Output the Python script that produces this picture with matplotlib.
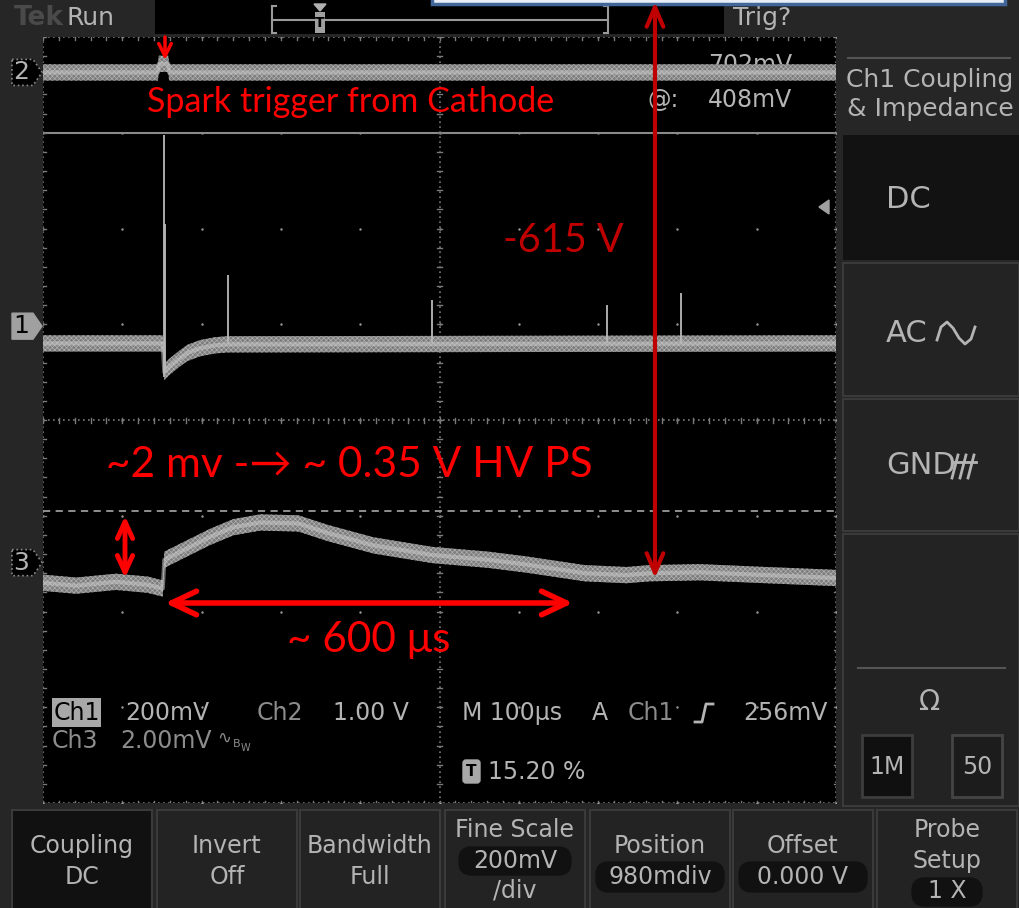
import matplotlib.pyplot as plt
from matplotlib.patches import Rectangle, FancyBboxPatch, Polygon

W, H = 1019, 908

# time base 100 us/div, trigger at 15.20 % of the record
t_start, t_stop = -152, 848

# Ch2 (1.00 V/div), trace height in screen divisions
ch2_t = [-152, -7, -6, 6, 7, 848]
ch2_div = [3.63, 3.63, 3.72, 3.72, 3.63, 3.63]

# Ch1 (200 mV/div)
ch1_t = [-152, -1, 1, 8, 20, 30, 46, 65, 80, 848]
ch1_div = [0.80, 0.80, 0.50, 0.56, 0.64, 0.70, 0.75, 0.78, 0.79, 0.80]
ch1_spike_t = [0, 2, 81, 339, 559, 652]
ch1_spike_base = [0.45, 0.50, 0.79, 0.80, 0.80, 0.80]
ch1_spike_top = [2.98, 2.05, 1.51, 1.25, 1.20, 1.33]

# Ch3 (2.00 mV/div, BW limited)
ch3_t = [-152, -110, -60, -20, -1, 1, 25, 59, 88, 122, 170, 207, 265,
         339, 410, 458, 531, 584, 613, 676, 760, 848]
ch3_div = [-1.70, -1.73, -1.69, -1.72, -1.76, -1.46, -1.36, -1.22, -1.12,
           -1.07, -1.08, -1.18, -1.31, -1.41, -1.46, -1.51, -1.60, -1.62,
           -1.60, -1.59, -1.62, -1.65]

# channel ground markers (divisions)
marker_labels = ["2", "1", "3"]
marker_div = [3.63, 0.98, -1.49]

bottom_menu = [("Coupling", "DC", None), ("Invert", "Off", None),
               ("Bandwidth", "Full", None), ("Fine Scale", "200mV", "/div"),
               ("Position", "980mdiv", None), ("Offset", "0.000 V", None),
               ("Probe", "Setup", "1 X")]

GRAY = "#b4b4b4"
DIM = "#8c8c8c"
SCOPE_FONT = "DejaVu Sans"
RED_FONT = ["Lato", "DejaVu Sans"]

plt.rcParams["hatch.linewidth"] = 0.5

fig = plt.figure(figsize=(W / 100, H / 100), dpi=100, facecolor="#262626")

# screen geometry in pixels
scr_l, scr_r, scr_t, scr_b = 43, 836, 37, 803
div_px = (scr_b - scr_t) / 8


def div_to_px(d):
    return scr_t + (4 - d) * div_px


def pixel_axes(z):
    ax = fig.add_axes([0, 0, 1, 1], zorder=z)
    ax.set_xlim(0, W)
    ax.set_ylim(H, 0)
    ax.axis("off")
    ax.patch.set_alpha(0)
    return ax


bg = pixel_axes(0)
scr = fig.add_axes([scr_l / W, 1 - scr_b / H, (scr_r - scr_l) / W,
                    (scr_b - scr_t) / H], zorder=1)
fg = pixel_axes(2)


def box(ax, x0, y0, x1, y1, fc, ec=None, lw=0, z=1):
    ax.add_patch(Rectangle((x0, y0), x1 - x0, y1 - y0, facecolor=fc,
                           edgecolor=ec if ec else fc, lw=lw, zorder=z))


def pill(ax, x0, y0, x1, y1):
    ax.add_patch(FancyBboxPatch((x0, y0), x1 - x0, y1 - y0,
                                boxstyle="round,pad=0,rounding_size=13",
                                facecolor="#111111", edgecolor="#111111",
                                zorder=3))


def label(ax, x, y, s, size=17, color=GRAY, ha="left", z=4, **kw):
    ax.text(x, y, s, fontsize=size, color=color, ha=ha, va="center",
            family=SCOPE_FONT, zorder=z, **kw)


# ---- top bar ----
box(bg, 155, 0, 724, 34, "#000000")
label(bg, 14, 18, "Tek", size=19, color="#4a4a4a", weight="bold")
label(bg, 67, 18, "Run", size=18)
label(bg, 733, 18, "Trig?", size=18)
bg.plot([272, 608], [20, 20], color="#9a9a9a", lw=1.5, zorder=3)
for xe, d in [(272, 4), (608, -4)]:
    bg.plot([xe, xe], [6, 33], color="#9a9a9a", lw=1.5, zorder=3)
    bg.plot([xe, xe + d], [6, 6], color="#9a9a9a", lw=1.5, zorder=3)
    bg.plot([xe, xe + d], [33, 33], color="#9a9a9a", lw=1.5, zorder=3)
bg.add_patch(Polygon([(314, 4), (326, 4), (320, 11)], color="#b0b0b0", zorder=4))
box(bg, 315, 12, 325, 33, "#a0a0a0", z=4)
label(bg, 320, 23, "T", size=10, color="#000000", ha="center", z=5,
      weight="bold")
box(bg, 432, -30, 1005, 4, "#e8eef6", ec="#41669a", lw=2.5, z=6)

# ---- right menu ----
bg.plot([848, 1010], [58, 58], color="#555555", lw=1.5)
label(bg, 930, 80, "Ch1 Coupling", size=18, ha="center")
label(bg, 930, 109, "& Impedance", size=18, ha="center")
box(bg, 843, 135, 1019, 260, "#121212")
box(bg, 843, 263, 1019, 396, "#232323", ec="#3a3a3a", lw=1.5)
box(bg, 843, 399, 1019, 531, "#232323", ec="#3a3a3a", lw=1.5)
box(bg, 843, 534, 1019, 806, "#232323", ec="#3a3a3a", lw=1.5)
label(bg, 886, 200, "DC", size=22)
label(bg, 886, 333, "AC", size=22)
label(bg, 886, 466, "GND", size=22)
# sine glyph next to AC and ground glyph next to GND
bg.plot([937, 941, 947, 953, 959, 965, 971, 975],
        [340, 327, 322, 328, 338, 344, 339, 327], color=GRAY, lw=2, zorder=4)
bg.plot([952, 976], [462, 462], color=GRAY, lw=2, zorder=4)
for xs in [958, 966, 974]:
    bg.plot([xs, xs - 6], [455, 478], color=GRAY, lw=2, zorder=4)
bg.plot([858, 1005], [668, 668], color="#555555", lw=1.5, zorder=4)
label(bg, 930, 702, "Ω", size=20, ha="center")
box(bg, 862, 735, 912, 797, "#101010", ec="#3d3d3d", lw=2, z=3)
box(bg, 952, 735, 1002, 797, "#1c1c1c", ec="#454545", lw=2, z=3)
label(bg, 887, 767, "1M", size=17, ha="center")
label(bg, 977, 767, "50", size=17, ha="center")

# ---- bottom menu ----
menu_x = [12, 157, 300, 445, 590, 733, 877]
menu_w = 140
for i, (x0, (l1, l2, l3)) in enumerate(zip(menu_x, bottom_menu)):
    fc = "#111111" if i == 0 else "#232323"
    box(bg, x0, 810, x0 + menu_w, 912, fc, ec="#3a3a3a", lw=1.5)
    xc = x0 + menu_w / 2
    if l3 is None:
        label(bg, xc, 846, l1, size=17, ha="center")
        if i >= 4:
            pill(bg, xc - 64, 862, xc + 64, 892)
        label(bg, xc, 877, l2, size=17, ha="center")
    else:
        label(bg, xc, 830, l1, size=17, ha="center")
        label(bg, xc, 861, l2, size=17, ha="center")
        label(bg, xc, 891, l3, size=17, ha="center")
        if i == 3:
            pill(bg, xc - 56, 847, xc + 56, 875)
        else:
            pill(bg, xc - 35, 878, xc + 35, 906)

# ---- graticule ----
scr.set_facecolor("#000000")
scr.set_xlim(t_start, t_stop)
scr.set_ylim(-4, 4)
for s in scr.spines.values():
    s.set_visible(False)
scr.set_xticks([])
scr.set_yticks([])

gx = [t_start + 100 * k for k in range(11)]
gy = list(range(-4, 5))
minor_x = [t_start + 20 * k for k in range(51)]
minor_y = [-4 + 0.2 * k for k in range(41)]
grid_c = "#7a7a7a"
scr.scatter([x for x in gx for _ in gy], [y for _ in gx for y in gy],
            s=3, color="#9a9a9a", lw=0, zorder=1)
dot = (0, (1, 2))
for x in [gx[0], gx[5], gx[-1]]:
    scr.axvline(x, color=grid_c, lw=1.2, ls=dot, zorder=1)
for y in [-4, 0, 4]:
    scr.axhline(y, color=grid_c, lw=1.2, ls=dot, zorder=1)
scr.axhline(3, color="#8a8a8a", lw=1.5, zorder=1)
scr.axhline(-0.95, color="#9a9a9a", lw=1.3, ls=(0, (4, 3)), zorder=1)
# minor ticks along the centre lines and the border
tick_dx = 5 * 100 / ((scr_r - scr_l) / 10)
tick_dy = 5 / div_px
for x in minor_x:
    for y0 in [-4, 0, 4]:
        scr.plot([x, x], [y0 - tick_dy / 2, y0 + tick_dy / 2], color=grid_c,
                 lw=1, zorder=1)
for y in minor_y:
    for x0 in [gx[0], gx[5], gx[-1]]:
        scr.plot([x0 - tick_dx / 2, x0 + tick_dx / 2], [y, y], color=grid_c,
                 lw=1, zorder=1)

# ---- readouts on the screen ----
scr_text = dict(transform=fg.transData)
label(scr, 708, 65, "702mV", size=17, z=2, **scr_text)
label(scr, 648, 100, "@:", size=17, z=2, **scr_text)
label(scr, 708, 100, "408mV", size=17, z=2, **scr_text)
box(fg, 52, 698, 101, 727, "#a8a8a8", z=3)
label(fg, 54, 713, "Ch1", size=17, color="#000000")
label(fg, 125, 713, "200mV", size=17)
label(fg, 257, 713, "Ch2", size=17, color=DIM)
label(fg, 333, 713, "1.00 V", size=17)
label(fg, 52, 741, "Ch3", size=17, color=DIM)
label(fg, 120, 741, "2.00mV", size=17, color=DIM)
label(fg, 217, 738, "∿", size=12, color=DIM)
label(fg, 233, 744, "B", size=8, color=DIM)
label(fg, 241, 748, "W", size=7, color=DIM)
label(fg, 462, 713, "M 100μs", size=17)
label(fg, 592, 713, "A", size=17)
label(fg, 628, 713, "Ch1", size=17, color=DIM)
fg.plot([695, 702, 706, 713], [722, 722, 704, 704], color=GRAY, lw=2)
label(fg, 828, 713, "256mV", size=17, ha="right")
fg.add_patch(FancyBboxPatch((463, 760), 17, 23, boxstyle="round,pad=0,rounding_size=3",
                            facecolor="#a8a8a8", edgecolor="#a8a8a8", zorder=3))
label(fg, 471.5, 772, "T", size=11, color="#000000", ha="center", weight="bold")
label(fg, 488, 772, "15.20 %", size=17)
# trigger level indicator for Ch1
fg.add_patch(Polygon([(819, 207), (829, 200), (829, 214)], color="#a0a0a0", zorder=3))

# ---- traces ----
band = 0.085


def trace(t, v):
    lo = [y - band for y in v]
    hi = [y + band for y in v]
    scr.fill_between(t, lo, hi, facecolor="#7c7c7c", edgecolor="#b0b0b0",
                     hatch="xxxxxxx", lw=0, zorder=3)
    scr.plot(t, v, color="#c8c8c8", lw=3, alpha=0.55, zorder=4,
             solid_joinstyle="round")


trace(ch2_t, ch2_div)
trace(ch1_t, ch1_div)
trace(ch3_t, ch3_div)
scr.vlines(ch1_spike_t, ch1_spike_base, ch1_spike_top, color="#b8b8b8",
           lw=1.3, zorder=4)

# channel ground markers on the left
for name, d in zip(marker_labels, marker_div):
    yp = div_to_px(d)
    pts = [(12, yp - 13), (33, yp - 13), (42, yp), (33, yp + 13), (12, yp + 13)]
    if name == "1":
        fg.add_patch(Polygon(pts, facecolor="#a0a0a0", edgecolor="#a0a0a0", zorder=3))
        label(fg, 21, yp, name, size=18, color="#000000", ha="center")
    else:
        fg.add_patch(Polygon(pts, facecolor="#000000", edgecolor="#8a8a8a",
                             lw=1.2, ls=":", zorder=3))
        label(fg, 21, yp, name, size=18, color=GRAY, ha="center")

# ---- annotations ----
RED = "#ff0000"
DARK_RED = "#c00000"


def arrow(x0, y0, x1, y1, style, color=RED, lw=3.5):
    fg.annotate("", xy=(x1, y1), xytext=(x0, y0),
                arrowprops=dict(arrowstyle=style, color=color, lw=lw,
                                shrinkA=0, shrinkB=0), zorder=6)


arrow(165, 37, 165, 60, "->,head_length=0.9,head_width=0.45", lw=2.5)
arrow(655, 2, 655, 578, "<->,head_length=1.4,head_width=0.6", color=DARK_RED, lw=3)
arrow(125, 516, 125, 578, "<->,head_length=1.2,head_width=0.55", lw=3.5)
arrow(165, 603, 573, 603, "<->,head_length=1.8,head_width=0.85", lw=4)

fg.text(147, 102, "Spark trigger from Cathode", color=RED, fontsize=24.5,
        family=RED_FONT, va="center", zorder=6)
fg.text(503, 240, "-615 V", color=DARK_RED, fontsize=28.5, family=RED_FONT,
        va="center", zorder=6)
fg.text(106, 465, "~2 mv -→ ~ 0.35 V HV PS", color=RED, fontsize=30.5,
        family=RED_FONT, va="center", zorder=6)
fg.text(287, 640, "~ 600 μs", color=RED, fontsize=30.5, family=RED_FONT,
        va="center", zorder=6)

fig.savefig("out.png", dpi=100, facecolor=fig.get_facecolor())
